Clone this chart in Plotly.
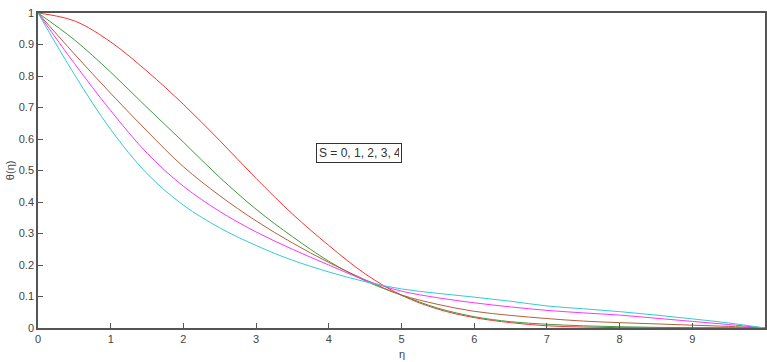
import plotly.graph_objects as go

eta = [0, 0.5, 1, 1.5, 2, 2.5, 3, 3.5, 4, 4.5, 5, 5.5, 6, 6.5, 7, 7.5, 8, 8.5, 9, 9.5, 10]

theta_s0 = [1.0, 0.975, 0.908, 0.815, 0.710, 0.595, 0.475, 0.362, 0.262, 0.172, 0.104, 0.060,
            0.033, 0.017, 0.007, 0.003, 0.001, 0.0005, 0.0, 0.0, 0.0]
theta_s1 = [1.0, 0.915, 0.812, 0.700, 0.590, 0.478, 0.377, 0.290, 0.212, 0.150, 0.104, 0.063,
            0.036, 0.020, 0.012, 0.007, 0.004, 0.002, 0.001, 0.0005, 0.0]
theta_s2 = [1.0, 0.870, 0.745, 0.625, 0.512, 0.420, 0.340, 0.270, 0.208, 0.153, 0.105, 0.075,
            0.053, 0.040, 0.030, 0.022, 0.017, 0.013, 0.009, 0.005, 0.0]
theta_s3 = [1.0, 0.840, 0.690, 0.555, 0.450, 0.370, 0.305, 0.250, 0.200, 0.152, 0.117, 0.096,
            0.080, 0.067, 0.056, 0.048, 0.041, 0.031, 0.021, 0.011, 0.0]
theta_s4 = [1.0, 0.805, 0.630, 0.490, 0.390, 0.318, 0.262, 0.215, 0.178, 0.147, 0.124, 0.110,
            0.098, 0.085, 0.070, 0.061, 0.052, 0.041, 0.029, 0.016, 0.0]

series = [theta_s0, theta_s1, theta_s2, theta_s3, theta_s4]
names = ["S = 0", "S = 1", "S = 2", "S = 3", "S = 4"]
colors = ["#ff3030", "#3f9a3f", "#b4603c", "#ff33ff", "#33cccc"]

x_ticks = [0, 1, 2, 3, 4, 5, 6, 7, 8, 9]
y_ticks = [0, 0.1, 0.2, 0.3, 0.4, 0.5, 0.6, 0.7, 0.8, 0.9, 1]
y_tick_text = ["0", "0.1", "0.2", "0.3", "0.4", "0.5", "0.6", "0.7", "0.8", "0.9", "1"]

font_family = "Liberation Sans Narrow, Liberation Sans, Arial, sans-serif"

fig = go.Figure()
for ys, nm, c in zip(series, names, colors):
    fig.add_trace(go.Scatter(x=eta, y=ys, mode="lines", name=nm,
                             line=dict(color=c, width=1, shape="spline", smoothing=1.0)))

fig.update_layout(
    width=767, height=362,
    margin=dict(l=38, r=0, t=13, b=34),
    paper_bgcolor="white", plot_bgcolor="white",
    showlegend=False,
    font=dict(family=font_family, size=11, color="#444"),
    xaxis=dict(range=[0, 10], tickvals=x_ticks, showgrid=False, zeroline=False,
               showline=True, linecolor="#555", linewidth=1.5, mirror=True,
               ticks="inside", ticklen=5, tickcolor="#555",
               tickfont=dict(family=font_family, size=11, color="#444")),
    yaxis=dict(range=[0, 1], tickvals=y_ticks, ticktext=y_tick_text, showgrid=False,
               zeroline=False, showline=True, linecolor="#555", linewidth=1.5, mirror=True,
               ticks="inside", ticklen=5, tickcolor="#555",
               tickfont=dict(family=font_family, size=11, color="#444")),
)

fig.add_annotation(x=3.82, y=0.587, xref="x", yref="y", xanchor="left", yanchor="top",
                   text="S = 0, 1, 2, 3, 4", showarrow=False, align="left",
                   width=80, height=14, bordercolor="#333", borderwidth=1, borderpad=2,
                   bgcolor="white", font=dict(family=font_family, size=12, color="#333"))

fig.add_annotation(x=0.5, y=-0.058, xref="paper", yref="paper", text="η", showarrow=False,
                   xanchor="center", yanchor="top", font=dict(family=font_family, size=11, color="#444"))
fig.add_annotation(x=-0.039, y=0.5, xref="paper", yref="paper", text="θ(η)", showarrow=False,
                   textangle=-90, xanchor="center", yanchor="middle",
                   font=dict(family=font_family, size=11, color="#444"))

fig.write_html("out.html")
